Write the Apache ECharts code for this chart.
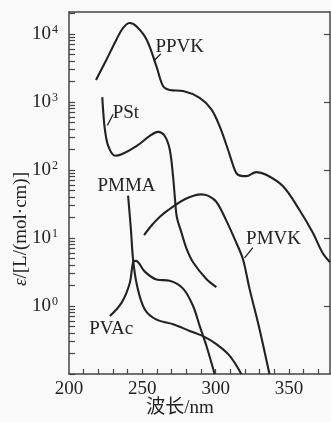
<!DOCTYPE html>
<html>
<head>
<meta charset="utf-8">
<script src="https://cdn.jsdelivr.net/npm/echarts@6/dist/echarts.min.js"></script>
<style>
  html, body { margin: 0; padding: 0; background: #f9f9f9; }
  #main { width: 331px; height: 422px; }
</style>
</head>
<body>
<div id="main"></div>
<script>
// wavelength (nm) and molar absorptivity
const ppvkNm = [218.4, 225.6, 232.4, 236.9, 241.5, 246.1, 252.9, 259.7, 264.2, 268.7, 277.8, 289.1, 297.1, 302.7, 308.4, 312.9, 315.2, 320.9, 327.7, 334.5, 345.8, 357.1, 366.2, 373.0, 378.0]
const ppvkEps = [2100, 4200, 8300, 12300, 14500, 12900, 8300, 3300, 1700, 1500, 1450, 1150, 780, 440, 200, 102, 85, 81, 93, 85, 58, 26, 12, 6, 4.4]

const pstNm = [222.7, 223.4, 224.5, 226.8, 231.3, 235.9, 246.0, 255.1, 260.7, 265.3, 268.7, 271.0, 272.3, 273.6, 276.7, 280.0, 284.6, 293.7, 300.5]
const pstEps = [1175, 690, 390, 224, 162, 170, 224, 316, 363, 316, 200, 79, 37, 20, 12, 7.1, 4.4, 2.5, 1.9]

const pmmaNm = [240.3, 242.2, 243.8, 246.5, 251.7, 259.7, 271.0, 282.3, 291.4, 300.5, 309.5, 317.5]
const pmmaEps = [42, 13.5, 4.6, 1.95, 0.89, 0.63, 0.54, 0.43, 0.36, 0.275, 0.186, 0.1]

const pvacNm = [227.9, 235.9, 241.5, 243.7, 245.6, 251.7, 259.7, 268.7, 277.8, 284.6, 289.1, 293.7, 299.3]
const pvacEps = [0.71, 1.12, 2.2, 4.4, 4.6, 3.2, 2.45, 2.35, 1.8, 1.0, 0.51, 0.26, 0.1]

const pmvkNm = [251.2, 256.0, 262.0, 268.0, 274.0, 280.0, 286.0, 290.0, 295.0, 300.5, 307.3, 314.1, 318.6, 323.1, 329.9, 336.7]
const pmvkEps = [11, 15, 20.5, 26, 32, 38, 42.5, 43.7, 41.5, 34, 18, 8.5, 4.9, 1.8, 0.46, 0.1]

// curve labels
const labelNames = ['PPVK', 'PSt', 'PMMA', 'PMVK', 'PVAc']
const labelNm = [275.5, 238.8, 239.2, 339.5, 228.8]
const labelEps = [6500, 690, 58, 9.5, 0.46]

// short leader lines from label to curve
const ppvkLeader = [[262.6, 5100], [257.8, 4000]]
const pstLeader = [[230.1, 660], [226.1, 450]]
const pmvkLeader = [[325.4, 7.2], [319.7, 5.1]]

// axis ticks
const xLabelVals = [200, 250, 300, 350]
const xTickVals = [210, 220, 230, 240, 250, 260, 270, 280, 290, 300, 310, 320, 330, 340, 350, 360, 370]
const yLabelVals = [1, 10, 100, 1000, 10000]

let yTickVals = []
for (let k = -1; k <= 4; k++) {
  for (let m = 1; m <= 9; m++) {
    let v = m * Math.pow(10, k)
    if (v >= 0.1 && v <= 21000) yTickVals.push(+v.toPrecision(3))
  }
}

const serif = '"Liberation Serif", "Times New Roman", serif'
const ink = '#222'
const axisLine = { show: true, lineStyle: { color: '#444', width: 1.5 } }

function pairs(xs, ys) {
  return xs.map((x, i) => [x, ys[i]])
}

function curve(name, xs, ys) {
  return {
    name: name,
    type: 'line',
    data: pairs(xs, ys),
    smooth: 0.35,
    showSymbol: false,
    lineStyle: { color: ink, width: 2.1 },
    silent: true,
    clip: true,
  }
}

function leader(pts) {
  return {
    type: 'line',
    data: pts,
    showSymbol: false,
    lineStyle: { color: ink, width: 1.3 },
    silent: true,
  }
}

let chart = echarts.init(document.getElementById('main'))
let option = {
  backgroundColor: '#f9f9f9',
  animation: false,
  grid: { left: 69, right: 1, top: 12, bottom: 48 },
  xAxis: [
    {
      type: 'value',
      position: 'bottom',
      min: 200,
      max: 378,
      interval: 50,
      axisLine: axisLine,
      axisTick: { show: true, inside: true, length: 5, customValues: xTickVals, lineStyle: { color: '#444', width: 1.2 } },
      axisLabel: { customValues: xLabelVals, fontFamily: serif, fontSize: 19, color: ink, margin: 6 },
      splitLine: { show: false },
    },
    {
      type: 'value',
      position: 'top',
      min: 200,
      max: 378,
      axisLine: axisLine,
      axisTick: { show: false },
      axisLabel: { show: false },
      splitLine: { show: false },
    },
  ],
  yAxis: [
    {
      type: 'log',
      logBase: 10,
      position: 'left',
      min: 0.1,
      max: 21000,
      axisLine: axisLine,
      axisTick: { show: true, inside: true, length: 6, customValues: yTickVals, lineStyle: { color: '#444', width: 1.2 } },
      axisLabel: {
        customValues: yLabelVals,
        margin: 11,
        formatter: function (v) {
          return '{b|10}{s|' + Math.round(Math.log10(v)) + '}'
        },
        rich: {
          b: { fontFamily: serif, fontSize: 19, color: ink },
          s: { fontFamily: serif, fontSize: 12, color: ink, padding: [0, 0, 9, 1] },
        },
      },
      splitLine: { show: false },
    },
    {
      type: 'log',
      logBase: 10,
      position: 'right',
      min: 0.1,
      max: 21000,
      axisLine: axisLine,
      axisTick: { show: true, inside: true, length: 6, customValues: yLabelVals, lineStyle: { color: '#444', width: 1.2 } },
      axisLabel: { show: false },
      splitLine: { show: false },
    },
  ],
  series: [
    curve('PPVK', ppvkNm, ppvkEps),
    curve('PSt', pstNm, pstEps),
    curve('PMMA', pmmaNm, pmmaEps),
    curve('PVAc', pvacNm, pvacEps),
    curve('PMVK', pmvkNm, pmvkEps),
    leader(ppvkLeader),
    leader(pstLeader),
    leader(pmvkLeader),
    {
      type: 'scatter',
      symbolSize: 0,
      silent: true,
      itemStyle: { color: ink, opacity: 1 },
      data: labelNames.map((n, i) => ({ name: n, value: [labelNm[i], labelEps[i]] })),
      label: {
        show: true,
        position: 'inside',
        formatter: '{b}',
        fontFamily: serif,
        fontSize: 19,
        color: ink,
        opacity: 1,
        textBorderWidth: 0,
        textBorderColor: 'transparent',
      },
    },
  ],
  graphic: [
    {
      type: 'text',
      x: 21,
      y: 229,
      rotation: Math.PI / 2,
      style: {
        text: '{i|ε}/[L/(mol·cm)]',
        font: '19px ' + serif,
        fill: ink,
        align: 'center',
        verticalAlign: 'middle',
        rich: { i: { fontStyle: 'italic', fontFamily: serif, fontSize: 19, fill: ink } },
      },
    },
    {
      type: 'text',
      x: 180,
      y: 408,
      style: {
        text: '波长/nm',
        font: '19px "Liberation Serif", "Noto Sans CJK SC", serif',
        fill: ink,
        align: 'center',
        verticalAlign: 'middle',
      },
    },
  ],
}
chart.setOption(option)
window.addEventListener('resize', () => {
  chart.resize()
})
</script>
</body>
</html>
